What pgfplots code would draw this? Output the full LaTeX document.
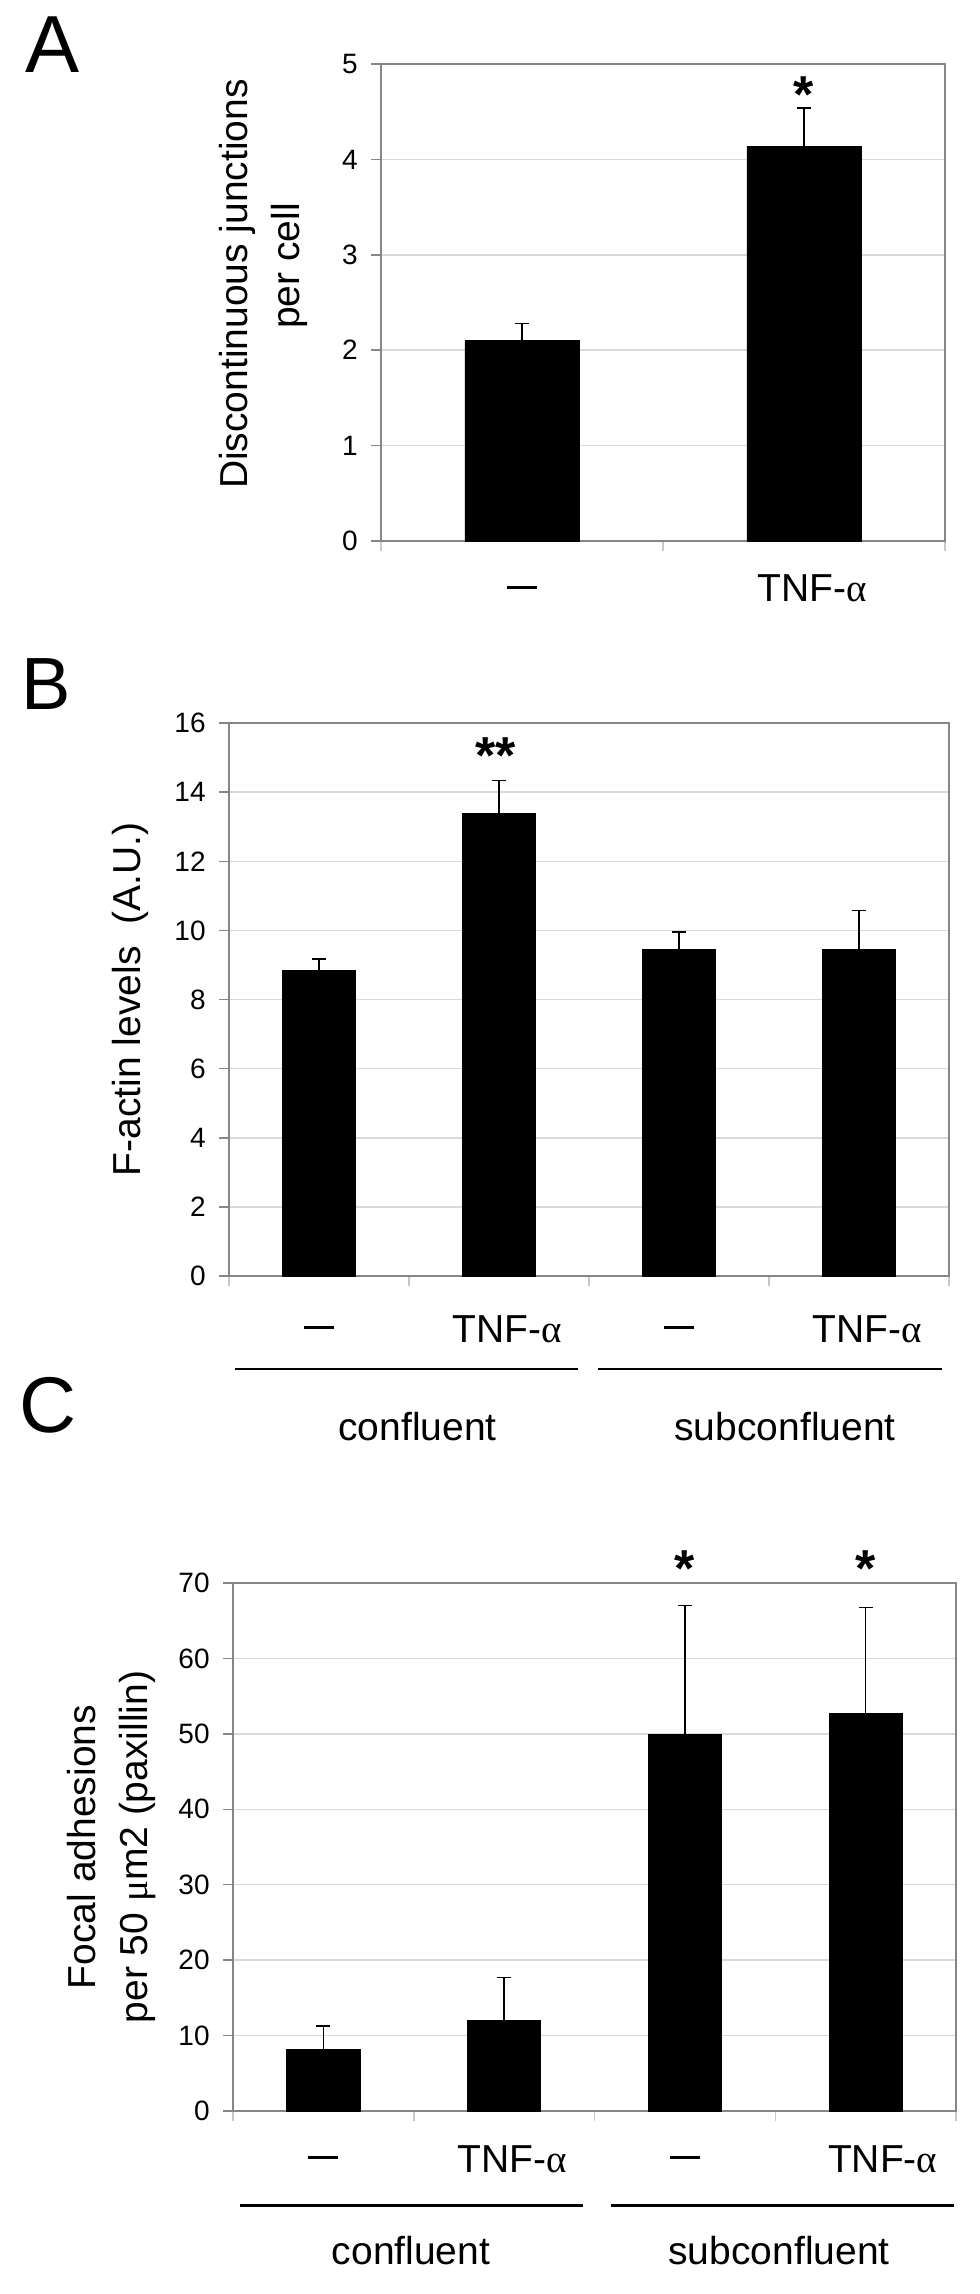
\documentclass[border=0pt]{standalone}
\usepackage{fontspec}
\setmainfont{Liberation Sans}
\newfontfamily\grk{Liberation Serif}
\usepackage{pgfplots}
\pgfplotsset{compat=1.18}
\definecolor{axisgray}{HTML}{868686}
\definecolor{gridgray}{HTML}{D9D9D9}
\definecolor{tickgray}{HTML}{C8C8C8}
\newcommand{\dash}{\rule[6.4pt]{15pt}{1.75pt}}
\newcommand{\tnf}{\hspace*{8pt}TNF-{\grk α}}
\newcommand{\lblfont}{\fontsize{19.5pt}{26pt}\selectfont}
\tikzset{starnode/.style={font=\fontsize{26pt}{26pt}\selectfont\bfseries, anchor=base, inner sep=0pt}}
\pgfplotsset{
  panel/.style={
    scale only axis, ymin=0, clip=false,
    axis line style={draw=axisgray, line width=0.75pt},
    ymajorgrids, grid style={draw=gridgray, line width=0.75pt},
    tick align=outside, major tick length=5pt,
    xtick pos=bottom, ytick pos=left,
    ytick style={draw=axisgray, line width=0.75pt},
    xtick style={draw=tickgray, line width=0.75pt},
    yticklabel style={font=\fontsize{14pt}{16pt}\selectfont, inner sep=0pt, anchor=east, xshift=-6.5pt},
    /pgf/number format/assume math mode=true,
    xticklabels={,,,,,},
    ylabel style={font=\lblfont, align=center, inner sep=0pt, anchor=center},
    ybar, bar width=0.405, bar shift=0pt,
  },
  xlab/.style={extra x tick style={major tick length=0pt,
      xticklabel style={anchor=base, inner sep=0pt, yshift=#1, font=\lblfont}}},
  bars/.style={fill=black, draw=black,
    error bars/.cd, y dir=plus, y explicit,
    error bar style={line width=0.75pt, black},
    error mark options={rotate=90, line width=0.75pt, black, mark size=3.5pt}},
}
\begin{document}
\begin{tikzpicture}
\useasboundingbox (0pt,0pt) rectangle (489.5pt,-1147pt);

% Panel A
\begin{axis}[panel, at={(190.5pt,-270.5pt)}, anchor=south west,
  width=282pt, height=238.5pt, xmin=-0.5, xmax=1.5, ymax=5,
  ytick={0,1,...,5}, xtick={-0.5,0.5,1.5},
  extra x ticks={0,1}, extra x tick labels={\dash,\tnf}, xlab=-30.5pt,
  ylabel={Discontinuous junctions\\\hspace*{18pt}per cell},
  ylabel style={at={(axis description cs:-0.2092,0.5388)}}]
\addplot[bars] coordinates {(0,2.10) +- (0,0.18) (1,4.14) +- (0,0.40)};
\node[starnode] at (axis cs:1,4.49) {*};
\end{axis}

% Panel B
\begin{axis}[panel, at={(114.5pt,-638pt)}, anchor=south west,
  width=360pt, height=276.5pt, xmin=-0.5, xmax=3.5, ymax=16,
  ytick={0,2,...,16}, xtick={-0.5,0.5,1.5,2.5,3.5},
  extra x ticks={0,1,2,3}, extra x tick labels={\dash,\tnf,\dash,\tnf}, xlab=-33pt,
  ylabel={F-actin levels\ \ (A.U.)},
  ylabel style={at={(axis description cs:-0.1375,0.5)}}]
\addplot[bars] coordinates {(0,8.84) +- (0,0.33) (1,13.38) +- (0,0.96) (2,9.45) +- (0,0.51) (3,9.45) +- (0,1.12)};
\node[starnode] at (axis cs:0.98,14.55) {**};
\end{axis}

% Panel C
\begin{axis}[panel, at={(116.5pt,-1055.5pt)}, anchor=south west,
  width=361.5pt, height=264pt, xmin=-0.5, xmax=3.5, ymax=70,
  ytick={0,10,...,70}, xtick={-0.5,0.5,1.5,2.5,3.5},
  extra x ticks={0,1,2,3}, extra x tick labels={\dash,\tnf,\dash,\hspace*{17pt}TNF-{\grk α}}, xlab=-30.5pt,
  ylabel={Focal adhesions\\per 50 {\grk μ}m2 (paxillin)},
  ylabel style={at={(axis description cs:-0.168,0.5)}}]
\addplot[bars] coordinates {(0,8.22) +- (0,3.02) (1,11.96) +- (0,5.77) (2,49.87) +- (0,17.13) (3,52.65) +- (0,14.08)};
\node[starnode] at (axis cs:2,69.6) {*};
\node[starnode] at (axis cs:3,69.6) {*};
\end{axis}

\begin{scope}[x=0.5pt,y=-0.5pt]
\draw[line width=1.3pt] (235,1369) -- (577.5,1369);
\draw[line width=1.3pt] (598,1369) -- (942,1369);
\node[anchor=base, inner sep=0pt, font=\lblfont] at (417.5,1440) {confluent};
\node[anchor=base, inner sep=0pt, font=\lblfont] at (785,1440) {subconfluent};
\draw[line width=1.3pt] (240,2205.7) -- (583.3,2205.7);
\draw[line width=1.3pt] (611,2205.7) -- (954,2205.7);
\node[anchor=base, inner sep=0pt, font=\lblfont] at (411,2264) {confluent};
\node[anchor=base, inner sep=0pt, font=\lblfont] at (779,2264) {subconfluent};
\node[anchor=base west, inner sep=0pt, font=\fontsize{40.5pt}{40pt}\selectfont] at (25,73) {A};
\node[anchor=base west, inner sep=0pt, font=\fontsize{37pt}{37pt}\selectfont] at (21.5,709) {B};
\node[anchor=base west, inner sep=0pt, font=\fontsize{39.5pt}{40pt}\selectfont] at (19,1432) {C};
\end{scope}
\end{tikzpicture}
\end{document}
